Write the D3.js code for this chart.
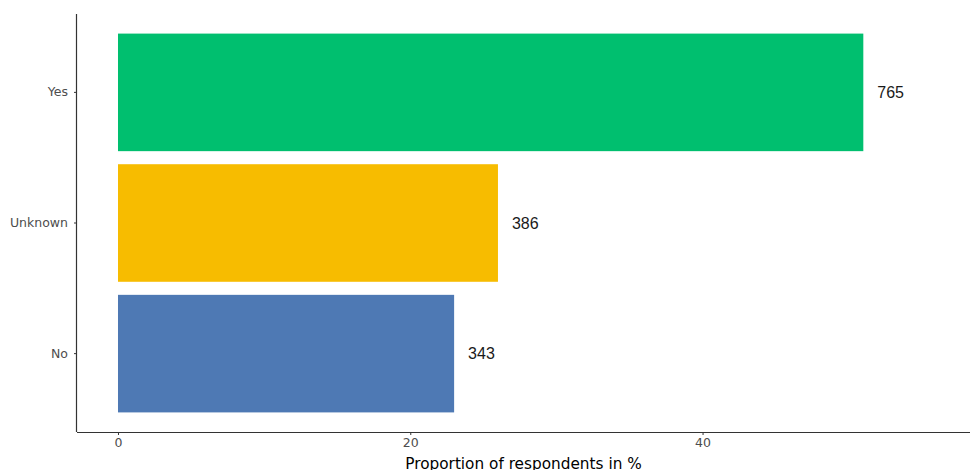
<!DOCTYPE html>
<html><head><meta charset="utf-8">
<script src="https://cdn.jsdelivr.net/npm/d3@7"></script>
<style>body{margin:0;background:#fff}svg{display:block}</style>
</head><body>
<svg id="c" width="970" height="470"></svg>
<script>
const categories = ["Yes", "Unknown", "No"];
const counts = [765, 386, 343];
const percents = [51, 26, 23];
const colors = ["#00BF6F", "#F7BC00", "#4E79B4"];
const xTicks = [0, 20, 40];
const xTitle = "Proportion of respondents in %";

(function () {
const data = categories.map((c, i) => ({cat: c, n: counts[i], pct: percents[i], col: colors[i]}));

const svg = d3.select("#c");
const mLeft = 77, mRight = 970, mTop = 14, mBottom = 432;
const x = d3.scaleLinear().domain([-2.805, 58.3]).range([mLeft, mRight]);
const y = d3.scaleBand().domain(categories).range([mTop, mBottom]).paddingInner(0.1).paddingOuter(0.15);

svg.selectAll("rect.bar").data(data).enter().append("rect")
  .attr("class", "bar")
  .attr("x", x(0)).attr("y", d => y(d.cat))
  .attr("width", d => x(d.pct) - x(0)).attr("height", y.bandwidth())
  .attr("fill", d => d.col);

svg.selectAll("text.lbl").data(data).enter().append("text")
  .attr("class", "lbl")
  .attr("x", d => x(d.pct) + 14).attr("y", d => y(d.cat) + y.bandwidth() / 2)
  .attr("dy", "0.35em")
  .attr("font-family", "Liberation Sans, Arial, sans-serif").attr("font-size", 16)
  .attr("fill", "#1a1a1a")
  .text(d => d.n);

const fontAxis = "DejaVu Sans, sans-serif";
const gx = svg.append("g").attr("transform", `translate(0,${mBottom})`)
  .call(d3.axisBottom(x).tickValues(xTicks).tickSize(3).tickPadding(3).tickSizeOuter(0));
const gy = svg.append("g").attr("transform", `translate(${mLeft},0)`)
  .call(d3.axisLeft(y).tickSize(3).tickPadding(6).tickSizeOuter(0));
[gx, gy].forEach(g => {
  g.select(".domain").attr("stroke", "#333").attr("stroke-width", 1.2);
  g.selectAll(".tick line").attr("stroke", "#333");
  g.selectAll(".tick text").attr("fill", "#4d4d4d").attr("font-family", fontAxis).attr("font-size", 12.5);
});
gx.select(".domain").attr("d", `M${mLeft},0.5H${mRight}`);
gy.select(".domain").attr("d", `M-0.5,${mTop}V${mBottom}`);

svg.append("text")
  .attr("x", (mLeft + mRight) / 2).attr("y", 469)
  .attr("text-anchor", "middle")
  .attr("font-family", fontAxis).attr("font-size", 15.3)
  .attr("fill", "#000")
  .text(xTitle);
})();
</script>
</body></html>
